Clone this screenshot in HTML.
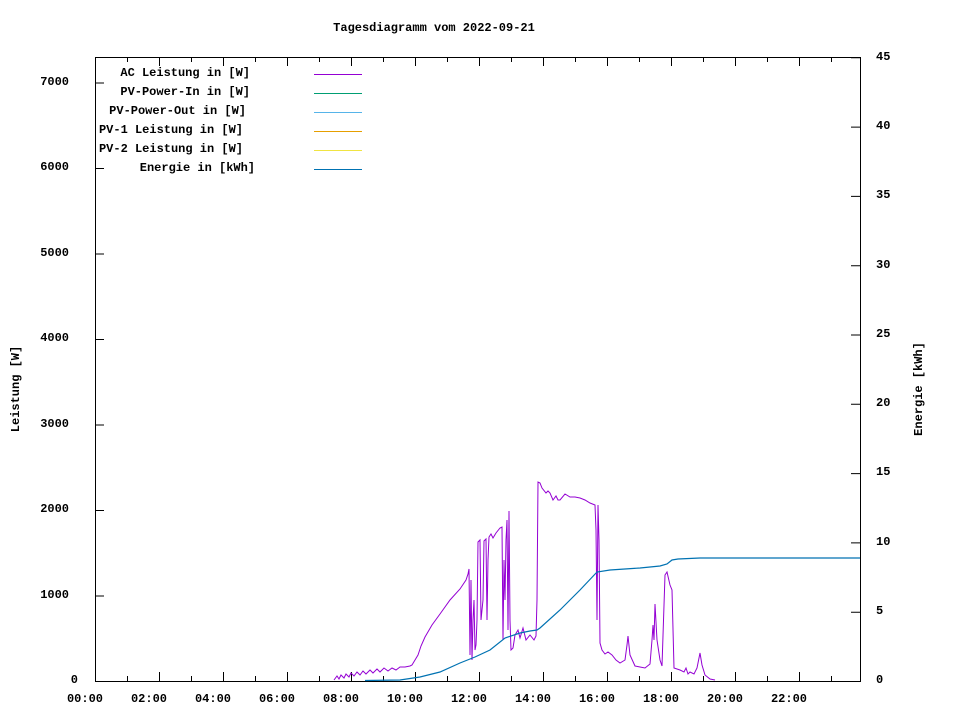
<!DOCTYPE html>
<html><head><meta charset="utf-8"><style>body{margin:0;background:#fff}svg{display:block}text{font-family:"Liberation Mono",monospace;font-weight:bold;font-size:12px;fill:#000}</style></head><body>
<svg width="960" height="720" viewBox="0 0 960 720">
<rect width="960" height="720" fill="#fff"/>
<text x="434" y="31" text-anchor="middle">Tagesdiagramm vom 2022-09-21</text>
<g stroke="#000" stroke-width="1" fill="none">
<rect x="95.5" y="57.5" width="765" height="624"/>
<path d="M95 681.5h9M95 596h9M95 510.5h9M95 425h9M95 339.5h9M95 254h9M95 168.5h9M95 83h9"/>
<path d="M860 681.5h-9M860 612.2h-9M860 542.9h-9M860 473.6h-9M860 404.3h-9M860 335h-9M860 265.7h-9M860 196.4h-9M860 127.1h-9M860 57.8h-9"/>
<path d="M95.5 681v-9M159.5 681v-9M223.5 681v-9M287.5 681v-9M351.5 681v-9M415.5 681v-9M479.5 681v-9M543.5 681v-9M607.5 681v-9M671.5 681v-9M735.5 681v-9M799.5 681v-9
M127.5 681v-5M191.5 681v-5M255.5 681v-5M319.5 681v-5M383.5 681v-5M447.5 681v-5M511.5 681v-5M575.5 681v-5M639.5 681v-5M703.5 681v-5M767.5 681v-5M831.5 681v-5
M159.5 57v9M223.5 57v9M287.5 57v9M351.5 57v9M415.5 57v9M479.5 57v9M543.5 57v9M607.5 57v9M671.5 57v9M735.5 57v9M799.5 57v9
M127.5 57v5M191.5 57v5M255.5 57v5M319.5 57v5M383.5 57v5M447.5 57v5M511.5 57v5M575.5 57v5M639.5 57v5M703.5 57v5M767.5 57v5M831.5 57v5"/>
</g>
<g text-anchor="end">
<text x="78" y="683">0</text><text x="69" y="598">1000</text><text x="69" y="512">2000</text><text x="69" y="427">3000</text><text x="69" y="341">4000</text><text x="69" y="256">5000</text><text x="69" y="170">6000</text><text x="69" y="85">7000</text>
</g>
<g text-anchor="start">
<text x="876" y="683">0</text><text x="876" y="614">5</text><text x="876" y="545">10</text><text x="876" y="475">15</text><text x="876" y="406">20</text><text x="876" y="337">25</text><text x="876" y="268">30</text><text x="876" y="198">35</text><text x="876" y="129">40</text><text x="876" y="60">45</text>
</g>
<g text-anchor="middle">
<text x="85" y="702">00:00</text><text x="149" y="702">02:00</text><text x="213" y="702">04:00</text><text x="277" y="702">06:00</text><text x="341" y="702">08:00</text><text x="405" y="702">10:00</text><text x="469" y="702">12:00</text><text x="533" y="702">14:00</text><text x="597" y="702">16:00</text><text x="661" y="702">18:00</text><text x="725" y="702">20:00</text><text x="789" y="702">22:00</text>
</g>
<text transform="translate(19,389) rotate(-90)" text-anchor="middle">Leistung [W]</text>
<text transform="translate(922,389) rotate(-90)" text-anchor="middle">Energie [kWh]</text>
<g text-anchor="end">
<text x="250" y="76">AC Leistung in [W]</text>
<text x="250" y="95">PV-Power-In in [W]</text>
<text x="246" y="114">PV-Power-Out in [W]</text>
<text x="243" y="133">PV-1 Leistung in [W]</text>
<text x="243" y="152">PV-2 Leistung in [W]</text>
<text x="255" y="171">Energie in [kWh]</text>
</g>
<g stroke-width="1">
<path d="M314 74.5h48" stroke="#9400d3"/>
<path d="M314 93.5h48" stroke="#009e73"/>
<path d="M314 112.5h48" stroke="#56b4e9"/>
<path d="M314 131.5h48" stroke="#e69f00"/>
<path d="M314 150.5h48" stroke="#f0e442"/>
<path d="M314 169.5h48" stroke="#0072b2"/>
</g>
<polyline fill="none" stroke="#9400d3" stroke-width="1" points="334,680 337,676 339,679 341,675 344,678 346,674 349,677 351,673 354,676 357,672 360,675 363,671 366,674 370,670 373,673 377,669 380,672 384,668 388,671 392,668 396,670 400,667 405,667 410,666 412,665 415,660 418,655 421,646 425,637 432,625 440,614 450,600 460,589 466,580 468,574 469,569 470,655 471,580 472,660 473,620 474,600 475,650 476,645 477,620 478,542 480,540 481,620 482,610 483,600 484,541 486,539 487,620 488,560 489,537 491,534 493,538 496,533 500,528 502,527 503,640 504,560 505,600 506,540 507,520 508,630 509,511 510,620 511,650 513,648 515,635 518,630 520,638 523,628 526,640 530,635 534,640 536,636 537,600 538,482 540,483 542,488 546,493 548,491 550,493 553,500 556,496 558,500 560,500 565,494 570,497 575,497 580,498 585,500 590,503 595,505 596,530 597,620 598,505 599,540 600,643 602,650 605,654 608,652 612,655 616,660 620,663 625,660 627,645 628,636 630,655 635,666 640,667 645,668 650,664 652,640 653,625 654,640 655,604 657,640 660,660 662,666 665,575 667,572 670,585 672,590 674,668 680,670 684,672 686,668 688,674 690,672 694,674 697,668 699,658 700,653 702,665 705,675 710,679 715,680"/>
<polyline fill="none" stroke="#0072b2" stroke-width="1.2" points="365,680.5 400,680 410,678.5 420,677 440,672 460,663 475,657 490,650 505,638 520,633 530,631 537,630 540,628 560,610 580,590 597,572 610,570 640,568 660,566 667,564 672,560 678,559 700,558 860,558"/>
</svg>
</body></html>
